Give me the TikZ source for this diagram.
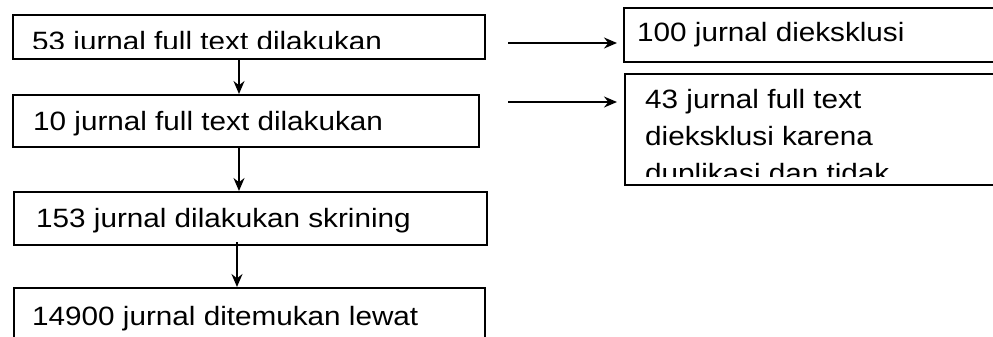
\documentclass[tikz,border=0pt]{standalone}
\usepackage{fontspec}
\setmainfont[FakeStretch=1.12]{Liberation Sans}
\usetikzlibrary{arrows.meta}
\begin{document}
\begin{tikzpicture}[x=1pt,y=-1pt,
  boxst/.style={draw=black,line width=2pt,inner sep=0pt},
  txt/.style={anchor=base west,inner sep=0pt,font=\fontsize{26.5}{37}\selectfont},
  arr/.style={-{Stealth[length=13pt,width=11pt]},line width=1.5pt}]
\useasboundingbox (0,0) rectangle (993,337);
% boxes
\node[boxst,anchor=north west,minimum width=472pt,minimum height=44pt] (b1) at (12,14) {};
\node[boxst,anchor=north west,minimum width=466pt,minimum height=52pt] (b2) at (12,94) {};
\node[boxst,anchor=north west,minimum width=473pt,minimum height=53pt] (b3) at (13,191) {};
\node[boxst,anchor=north west,minimum width=471pt,minimum height=60pt] (b4) at (13,287) {};
\node[boxst,anchor=north west,minimum width=380pt,minimum height=54pt] (b5) at (623,7) {};
\node[boxst,anchor=north west,minimum width=380pt,minimum height=111pt] (b6) at (624,73) {};
% texts
\begin{scope}
\clip (14,16) rectangle (482,48.5);
\node[txt] (t1) at (32,51) {53 jurnal full text dilakukan};
\end{scope}
\node[txt] (t2) at (33,130) {10 jurnal full text dilakukan};
\node[txt] (t3) at (36,227) {153 jurnal dilakukan skrining};
\node[txt] (t4) at (32,325) {14900 jurnal ditemukan lewat};
\node[txt] (t5) at (637,42) {100 jurnal dieksklusi};
\node[txt] (t6a) at (645,108) {43 jurnal full text};
\node[txt] (t6b) at (645,145) {dieksklusi karena};
\begin{scope}
\clip (626,150) rectangle (993,176);
\node[txt] (t6c) at (645,182) {duplikasi dan tidak};
\end{scope}
% connectors
\coordinate (h1s) at (508,43);
\coordinate (h2s) at (508,102);
\draw[arr] (b1.south -| 239,0) -- (b2.north -| 239,0);
\draw[arr] (b2.south -| 239,0) -- (b3.north -| 239,0);
\draw[arr] ([yshift=4pt]b3.south -| 237,0) -- (b4.north -| 237,0);
\draw[arr,shorten >=6pt] (h1s) -- (h1s -| b5.west);
\draw[arr,shorten >=7pt] (h2s) -- (h2s -| b6.west);
\end{tikzpicture}
\end{document}
